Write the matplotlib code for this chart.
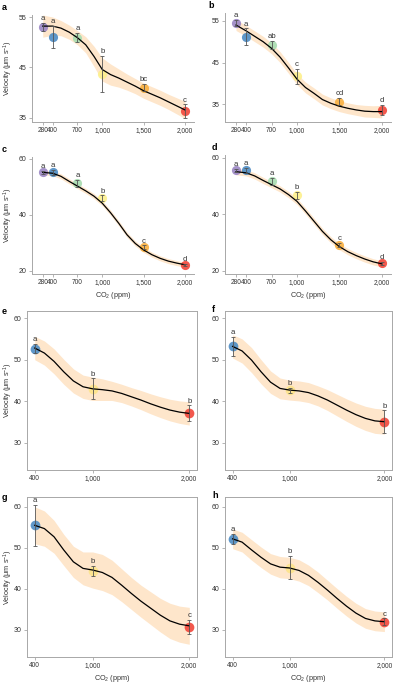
import matplotlib
matplotlib.use("Agg")
import matplotlib.pyplot as plt
import numpy as np

plt.rcParams['font.family'] = ['Liberation Sans', 'DejaVu Sans']
plt.rcParams['mathtext.fontset'] = 'custom'
plt.rcParams['mathtext.rm'] = 'Liberation Sans'
plt.rcParams['mathtext.it'] = 'Liberation Sans:italic'

# ---------------- data ----------------
co2_top = [280, 400, 700, 1000, 1500, 2000]
co2_bot = [400, 1000, 2000]
colors_top = ['#9a86c4', '#4d8cc4', '#a8dcb0', '#fdf08c', '#f9b040', '#f1463a']
colors_bot = ['#4d8cc4', '#fde48a', '#f1463a']

curve_x_top = [280, 400, 500, 600, 700, 800, 900, 1000, 1100, 1200, 1300, 1400,
               1500, 1600, 1700, 1800, 1900, 2000]
curve_x_bot = [400, 500, 600, 700, 800, 900, 1000, 1100, 1200, 1300, 1400, 1500,
               1600, 1700, 1800, 1900, 2000]

# panel a
a_vals = [53.1, 51.1, 50.9, 43.7, 41.0, 36.3]
a_err = [0.8, 2.2, 0.9, 3.6, 0.7, 1.4]
a_let = ['a', 'a', 'a', 'b', 'bc', 'c']
a_curve = [53.2, 53.2, 52.8, 52.0, 50.9, 49.5, 47.2, 44.6, 43.6, 42.9, 42.1, 41.3,
           40.4, 39.7, 39.0, 38.2, 37.4, 36.6]
a_band = [2.2, 1.8, 1.5, 1.4, 1.4, 1.6, 2.0, 2.3, 2.1, 1.8, 1.6, 1.5, 1.5, 1.5, 1.5,
          1.5, 1.6, 1.7]
# panel b
b_vals = [54.5, 51.2, 49.2, 41.7, 35.6, 33.6]
b_err = [0.8, 2.0, 1.0, 1.8, 0.8, 1.2]
b_let = ['a', 'a', 'ab', 'c', 'cd', 'd']
b_curve = [54.0, 52.6, 51.3, 50.0, 48.4, 46.3, 43.7, 41.0, 39.0, 37.6, 36.1, 35.2,
           34.5, 34.0, 33.6, 33.3, 33.2, 33.2]
b_band = [1.3] * 14 + [1.3, 1.4, 1.4, 1.5]
# panel c
c_vals = [55.2, 55.2, 51.3, 46.0, 28.5, 22.1]
c_err = [0.6, 0.8, 1.2, 1.0, 0.6, 0.5]
c_let = ['a', 'a', 'a', 'b', 'c', 'd']
c_curve = [55.2, 54.9, 53.8, 52.0, 50.3, 48.6, 46.7, 44.2, 40.8, 37.0, 32.9, 29.8,
           27.5, 25.8, 24.5, 23.5, 22.8, 22.2]
c_band = [0.9] * 18
# panel d
d_vals = [55.6, 55.6, 51.7, 46.7, 29.2, 22.7]
d_err = [0.5, 0.9, 1.2, 1.1, 0.6, 0.5]
d_let = ['a', 'a', 'a', 'b', 'c', 'd']
d_curve = [55.1, 54.7, 53.6, 52.0, 50.5, 49.0, 47.0, 44.6, 41.2, 37.6, 34.0, 31.0,
           28.6, 26.8, 25.4, 24.2, 23.2, 22.5]
d_band = [1.1] * 18
# panel e
e_vals = [52.6, 43.0, 37.1]
e_err = [1.1, 2.5, 1.9]
e_let = ['a', 'b', 'b']
e_curve = [52.8, 51.6, 49.6, 47.1, 44.9, 43.5, 43.0, 42.8, 42.5, 41.9, 41.1, 40.3,
           39.4, 38.6, 37.9, 37.4, 37.1]
e_band = [2.8, 2.9, 3.0, 3.0, 2.9, 2.8, 2.8, 2.6, 2.3, 2.2, 2.2, 2.3, 2.4, 2.5, 2.6,
          2.7, 2.8]
# panel f
f_vals = [53.2, 42.7, 35.1]
f_err = [2.3, 0.6, 2.7]
f_let = ['a', 'b', 'b']
f_curve = [53.2, 52.1, 49.9, 47.1, 44.6, 43.1, 42.7, 42.5, 42.1, 41.3, 40.3, 39.1,
           37.9, 36.8, 35.9, 35.3, 35.1]
f_band = [2.8, 2.9, 3.0, 2.9, 2.7, 2.5, 2.4, 2.4, 2.4, 2.4, 2.5, 2.6, 2.7, 2.8, 2.9,
          3.0, 3.0]
# panel g
g_vals = [55.5, 44.4, 30.8]
g_err = [5.0, 1.3, 1.7]
g_let = ['a', 'b', 'c']
g_curve = [55.5, 54.7, 52.7, 49.5, 46.6, 45.0, 44.6, 44.0, 42.8, 40.9, 38.9, 37.0,
           35.3, 33.6, 32.2, 31.4, 31.0]
g_band = [4.5, 4.3, 4.0, 3.8, 3.8, 4.0, 4.4, 4.4, 4.2, 4.0, 3.9, 3.9, 4.0, 4.1, 4.3,
          4.4, 4.5]
# panel h
h_vals = [52.2, 45.2, 32.0]
h_err = [1.3, 2.8, 0.8]
h_let = ['a', 'b', 'c']
h_curve = [52.2, 51.4, 49.5, 47.7, 46.1, 45.3, 45.1, 44.5, 43.3, 41.6, 39.7, 37.7,
           35.8, 34.1, 32.8, 32.2, 32.0]
h_band = [2.4, 2.4, 2.5, 2.5, 2.5, 2.6, 2.6, 2.6, 2.5, 2.5, 2.4, 2.4, 2.4, 2.4, 2.4,
          2.4, 2.4]

top_ticks = [280, 400, 700, 1000, 1500, 2000]
top_ticklabels = ['280', '400', '700', '1,000', '1,500', '2,000']
bot_ticks = [400, 1000, 2000]
bot_ticklabels = ['400', '1,000', '2,000']

# ---------------- figure ----------------
W, H = 396, 685
fig = plt.figure(figsize=(W / 100, H / 100), dpi=100)
fig.patch.set_facecolor('white')

BAND = '#fee6cb'
SPINE = '#a8a8a8'
TXT = '#333333'
ERR = '#555555'


def make_ax(l, t, r, b):
    return fig.add_axes([l / W, 1 - b / H, (r - l) / W, (b - t) / H])


def panel(box, x, vals, err, lets, cols, cx, cy, cb, xticks, xtl, yticks, ylim, xlim,
          letter, boxed, ylabel, xlabel, ms):
    ax = make_ax(*box)
    cx = np.array(cx)
    cy = np.array(cy)
    cb = np.array(cb)
    ax.fill_between(cx, cy - cb, cy + cb, color=BAND, lw=0, zorder=1)
    ax.plot(cx, cy, color='black', lw=0.9, zorder=3, solid_joinstyle='round')
    for xi, v, e, c in zip(x, vals, err, cols):
        ax.plot([xi], [v], 'o', ms=ms, color=c, alpha=0.9, mec='none', zorder=2)
    ax.errorbar(x, vals, yerr=err, fmt='none', ecolor=ERR, elinewidth=0.6,
                capsize=1.6, capthick=0.6, zorder=4)
    for xi, v, e, lt in zip(x, vals, err, lets):
        ax.annotate(lt, (xi, v + e), xytext=(0, 0.6), textcoords='offset points',
                    ha='center', va='bottom', fontsize=5.6, color=TXT, zorder=5)
    ax.set_xlim(*xlim)
    ax.set_ylim(*ylim)
    ax.set_xticks(xticks)
    ax.set_xticklabels(xtl)
    ax.set_yticks(yticks)
    ax.tick_params(axis='x', labelsize=4.7)
    ax.tick_params(axis='y', labelsize=5.0)
    ax.tick_params(axis='both', colors=SPINE, labelcolor=TXT,
                   length=2.2, width=0.6, pad=1.5, direction='out')
    for s in ax.spines.values():
        s.set_color(SPINE)
        s.set_linewidth(0.7)
    if not boxed:
        ax.spines['top'].set_visible(False)
        ax.spines['right'].set_visible(False)
    if ylabel:
        ycen = 1 - 0.5 * (box[1] + box[3]) / H
        fig.text(8.5 / W, ycen, 'Velocity (μm s$^{-1}$)', fontsize=5.2, color=TXT,
                 rotation=90, ha='center', va='center')
    if xlabel:
        ax.set_xlabel('CO$_2$ (ppm)', fontsize=5.2, color=TXT, labelpad=2.5)
    fig.text(letter[1] / W, 1 - letter[2] / H, letter[0], fontsize=6.5,
             fontweight='bold', ha='left', va='center', color='black')
    return ax


xlim_top = (150, 2110)
xlim_bot = (320, 2080)

axa = panel((32, 15, 194, 122), co2_top, a_vals, a_err, a_let, colors_top,
            curve_x_top, a_curve, a_band, top_ticks, top_ticklabels, [35, 45, 55],
            (34.2, 55.4), xlim_top, ('a', 2, 7), False, True, False, 6.6)
axb = panel((225, 13, 391, 122), co2_top, b_vals, b_err, b_let, colors_top,
            curve_x_top, b_curve, b_band, top_ticks, top_ticklabels, [35, 45, 55],
            (30.7, 56.9), xlim_top, ('b', 208, 6), False, False, False, 6.6)
axc = panel((32, 157, 194, 274), co2_top, c_vals, c_err, c_let, colors_top,
            curve_x_top, c_curve, c_band, top_ticks, top_ticklabels, [20, 40, 60],
            (18.9, 60.7), xlim_top, ('c', 2, 149), False, True, True, 6.6)
axd = panel((225, 155, 391, 274), co2_top, d_vals, d_err, d_let, colors_top,
            curve_x_top, d_curve, d_band, top_ticks, top_ticklabels, [20, 40, 60],
            (18.9, 61.0), xlim_top, ('d', 212, 148), False, False, True, 6.6)
axe = panel((27, 311, 197, 470), co2_bot, e_vals, e_err, e_let, colors_bot,
            curve_x_bot, e_curve, e_band, bot_ticks, bot_ticklabels, [30, 40, 50, 60],
            (23.5, 61.7), xlim_bot, ('e', 2, 311), True, True, False, 7.0)
axf = panel((225, 311, 392, 470), co2_bot, f_vals, f_err, f_let, colors_bot,
            curve_x_bot, f_curve, f_band, bot_ticks, bot_ticklabels, [30, 40, 50, 60],
            (23.5, 61.7), xlim_bot, ('f', 212, 310), True, False, False, 7.0)
axg = panel((27, 497, 197, 657), co2_bot, g_vals, g_err, g_let, colors_bot,
            curve_x_bot, g_curve, g_band, bot_ticks, bot_ticklabels, [30, 40, 50, 60],
            (23.4, 62.4), xlim_bot, ('g', 2, 497), True, True, True, 7.0)
axh = panel((225, 497, 392, 657), co2_bot, h_vals, h_err, h_let, colors_bot,
            curve_x_bot, h_curve, h_band, bot_ticks, bot_ticklabels, [30, 40, 50, 60],
            (23.4, 62.4), xlim_bot, ('h', 212, 496), True, False, True, 7.0)

fig.savefig('out.png', dpi=100, facecolor='white')
